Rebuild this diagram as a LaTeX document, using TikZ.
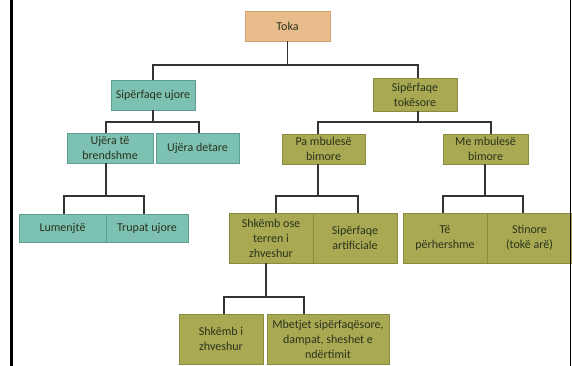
\documentclass[tikz,border=0pt]{standalone}
\usepackage{fontspec}
\setmainfont{Carlito}
\definecolor{tealfill}{HTML}{7DC1B2}
\definecolor{tealline}{HTML}{5E9E91}
\definecolor{olivefill}{HTML}{A8A952}
\definecolor{oliveline}{HTML}{8A8B3E}
\definecolor{peachfill}{HTML}{E9BC8C}
\definecolor{peachline}{HTML}{CFA070}
\definecolor{txtdark}{HTML}{2A331C}
\definecolor{linedark}{HTML}{333333}
\begin{document}
\begin{tikzpicture}[x=1pt,y=-1pt,
  box/.style={rectangle, inner sep=1pt, align=center, text=txtdark,
    font=\fontsize{12}{15}\selectfont, line width=0.6pt},
  tealbox/.style={box, fill=tealfill, draw=tealline},
  olivebox/.style={box, fill=olivefill, draw=oliveline},
  peachbox/.style={box, fill=peachfill, draw=peachline},
  conn/.style={draw=linedark, line width=1.6pt}]
\useasboundingbox (0,0) rectangle (572,366);
\fill[white] (0,0) rectangle (572,366);

% nodes
\node[peachbox, minimum width=85pt, minimum height=30pt] (toka) at (287.5,26) {Toka};
\node[tealbox, minimum width=84pt, minimum height=30pt] (ujore) at (153,95) {Sipërfaqe ujore};
\node[olivebox, minimum width=84pt, minimum height=33pt] (tokesore) at (415,94.5) {Sipërfaqe\\tokësore};
\node[tealbox, minimum width=86pt, minimum height=30pt] (brendshme) at (110,148) {Ujëra të\\brendshme};
\node[tealbox, minimum width=83pt, minimum height=30pt] (detare) at (197.5,148) {Ujëra detare};
\node[olivebox, minimum width=83pt, minimum height=30pt] (pa) at (323.5,149) {Pa mbulesë\\bimore};
\node[olivebox, minimum width=85pt, minimum height=30pt] (mbul) at (485.5,149) {Me mbulesë\\bimore};
\node[tealbox, minimum width=87pt, minimum height=28pt] (lumenjte) at (62.5,228) {Lumenjtë};
\node[tealbox, minimum width=82pt, minimum height=28pt] (trupat) at (147,228) {Trupat ujore};
\node[olivebox, minimum width=84pt, minimum height=50pt] (shkemb) at (271,238) {Shkëmb ose\\terren i\\zhveshur};
\node[olivebox, minimum width=84pt, minimum height=50pt] (artificiale) at (355,238) {Sipërfaqe\\artificiale};
\node[olivebox, minimum width=84pt, minimum height=50pt] (perhershme) at (445,238) {Të\\përhershme};
\node[olivebox, minimum width=85pt, minimum height=50pt] (stinore) at (529.5,238) {Stinore\\(tokë arë)};
\node[olivebox, minimum width=84pt, minimum height=50pt] (zhveshur) at (221,339) {Shkëmb i\\zhveshur};
\node[olivebox, minimum width=122pt, minimum height=50pt] (mbetjet) at (328,339) {Mbetjet sipërfaqësore,\\dampat, sheshet e\\ndërtimit};

% bus coordinates
\coordinate (t1) at (287.5,65);
\coordinate (t2) at (153,122);
\coordinate (t3) at (418,122);
\coordinate (t4) at (106,196);
\coordinate (t5) at (318,196);
\coordinate (t6) at (485,196);
\coordinate (t7) at (266,297);
\coordinate (c6a) at (443,196);
\coordinate (c6b) at (523,196);

% connectors
\draw[conn] (toka.south) -- (t1);
\draw[conn] (t1) -| (ujore.north);
\draw[conn] (t1) -| ([xshift=3pt]tokesore.north);

\draw[conn] (ujore.south) -- (t2);
\draw[conn] (t2) -| ([xshift=-4pt]brendshme.north);
\draw[conn] (t2) -| ([xshift=1.5pt]detare.north);
\draw[conn] ([xshift=3pt]tokesore.south) -- (t3);
\draw[conn] (t3) -| ([xshift=-5.5pt]pa.north);
\draw[conn] (t3) -| ([xshift=5.5pt]mbul.north);

\draw[conn] ([xshift=-4pt]brendshme.south) -- (t4);
\draw[conn] (t4) -| ([xshift=1.5pt]lumenjte.north);
\draw[conn] (t4) -| ([xshift=-3pt]trupat.north);
\draw[conn] ([xshift=-5.5pt]pa.south) -- (t5);
\draw[conn] (t5) -| ([xshift=5pt]shkemb.north);
\draw[conn] (t5) -| ([xshift=3pt]artificiale.north);
\draw[conn] (mbul.south -| t6) -- (t6) -- (c6a) -- (c6a |- perhershme.north);
\draw[conn] (t6) -- (c6b) -- (c6b |- stinore.north);

\draw[conn] ([xshift=-5pt]shkemb.south) -- (t7);
\draw[conn] (t7) -| ([xshift=3pt]zhveshur.north);
\draw[conn] (t7) -| ([xshift=-24pt]mbetjet.north);

% frame
\fill[black] (10,0) rectangle (13,366);
\draw[black, line width=1pt] (570.5,0) -- (570.5,366);
\end{tikzpicture}
\end{document}
